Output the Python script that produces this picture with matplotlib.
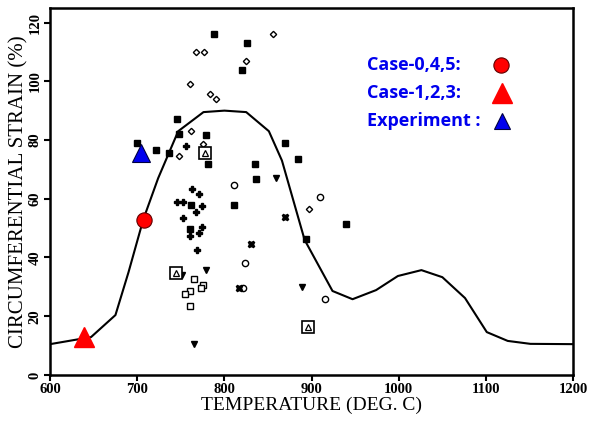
"""
Circumferential strain vs temperature - scanned test data with calculated curve
and overlaid case/experiment markers.
"""
import matplotlib
matplotlib.use("Agg")
import matplotlib.pyplot as plt

# burst strain curve (best fit through test data)
curve_t = [600, 647, 675, 690, 707, 724, 747, 776, 800, 825, 851, 866, 892, 924, 947, 974,
           999, 1026, 1050, 1076, 1101, 1125, 1151, 1200]
curve_s = [10.5, 12.9, 20.4, 35, 53, 67, 83, 89.5, 90, 89.5, 83, 73, 46, 28.6, 25.8, 28.9,
           33.7, 35.7, 33.3, 26.2, 14.6, 11.6, 10.6, 10.5]

# scanned test points, grouped by symbol
sq_t = [788, 826, 820, 746, 700, 722, 736, 748, 779, 781, 870, 835, 884, 836, 811, 762, 760, 939, 894]
sq_s = [116, 113, 104, 87, 79, 76.5, 75.5, 82, 81.6, 72, 79, 72, 73.5, 66.6, 57.8, 57.8, 49.6, 51.3, 46.3]

dia_t = [856, 767, 777, 825, 760, 783, 790, 762, 775, 748, 897]
dia_s = [116, 110, 110, 107, 99, 95.5, 94, 83, 78.6, 74.5, 56.6]

circ_t = [811, 910, 915, 824, 821]
circ_s = [64.6, 60.5, 25.8, 38, 29.6]

plus_t = [756, 763, 771, 746, 753, 774, 767, 752, 774, 760, 771, 769]
plus_s = [78, 63.3, 61.6, 59, 59, 57.5, 55.4, 53.4, 50.4, 47.4, 48.4, 42.5]

osq_t = [765, 776, 773, 760, 755, 761]
osq_s = [32.6, 30.6, 29.6, 28.6, 27.6, 23.5]

tri_t = [859, 751, 779, 889, 765]
tri_s = [67, 34, 35.7, 30, 10.5]

box_t = [778, 745, 896]
box_s = [75.5, 34.6, 16.3]

bow_t = [869, 830, 817]
bow_s = [53.7, 44.5, 29.6]

# code results
case045_t, case045_s = [708], [52.7]
case123_t, case123_s = [639], [12.8]
exp_t, exp_s = [704], [75.5]

legend_labels = ["Case-0,4,5:", "Case-1,2,3:", "Experiment :"]

serif = ["Liberation Serif", "DejaVu Serif"]

fig = plt.figure(figsize=(5.89, 4.23), dpi=100)
ax = fig.add_axes([0.085, 0.1135, 0.888, 0.868])

ax.plot(curve_t, curve_s, color="black", lw=1.5, zorder=2)

k = dict(color="black", ls="none", zorder=3)
ax.plot(sq_t, sq_s, marker="s", ms=4, **k)
ax.plot(dia_t, dia_s, marker="D", ms=3.2, mfc="white", mew=1.0, **k)
ax.plot(circ_t, circ_s, marker="o", ms=4.5, mfc="white", mew=1.0, **k)
ax.plot(plus_t, plus_s, marker="P", ms=4, **k)
ax.plot(osq_t, osq_s, marker="s", ms=4.5, mfc="white", mew=1.0, **k)
ax.plot(tri_t, tri_s, marker="v", ms=4.5, **k)
ax.plot(box_t, box_s, marker="s", ms=8, mfc="white", mew=1.2, **k)
ax.plot(box_t, box_s, marker="^", ms=4, mfc="white", mew=0.9, **k)
ax.plot(bow_t, bow_s, marker="X", ms=4.5, **k)

ax.plot(case045_t, case045_s, marker="o", ms=11, color="red", mec="#600000", mew=0.8, ls="none", zorder=5)
ax.plot(case123_t, case123_s, marker="^", ms=15, color="red", ls="none", zorder=5)
ax.plot(exp_t, exp_s, marker="^", ms=13, color="#0000ee", mec="#000040", mew=0.8, ls="none", zorder=5)

# legend built by hand as in the original
rows = [0.845, 0.768, 0.692]
for lab, y in zip(legend_labels, rows):
    ax.text(0.606, y, lab, transform=ax.transAxes, color="#0000ee", fontsize=13,
            fontweight="bold", family=["Open Sans", "DejaVu Sans"], va="center", ha="left")
ax.plot([0.862], [rows[0]], marker="o", ms=11, color="red", mec="#600000", mew=0.8,
        transform=ax.transAxes, clip_on=False)
ax.plot([0.865], [rows[1]], marker="^", ms=14, color="red", transform=ax.transAxes, clip_on=False)
ax.plot([0.865], [rows[2]], marker="^", ms=12, color="#0000ee", mec="#000040", mew=0.8,
        transform=ax.transAxes, clip_on=False)

ax.set_xlim(600, 1200)
ax.set_ylim(0, 125)
ax.set_xticks(range(600, 1201, 100))
ax.set_yticks(range(0, 121, 20))
for s in ax.spines.values():
    s.set_linewidth(1.8)
ax.tick_params(direction="out", length=4, width=1.5, labelsize=10.5, pad=2)
for lab in ax.get_xticklabels() + ax.get_yticklabels():
    lab.set_family(serif)
    lab.set_fontweight("bold")
for lab in ax.get_yticklabels():
    lab.set_rotation(90)
    lab.set_va("center")

ax.set_xlabel("TEMPERATURE (DEG. C)", family=serif, fontsize=14, labelpad=0)
ax.set_ylabel("CIRCUMFERENTIAL STRAIN (%)", family=serif, fontsize=15, labelpad=0)

fig.savefig("out.png", dpi=100)
